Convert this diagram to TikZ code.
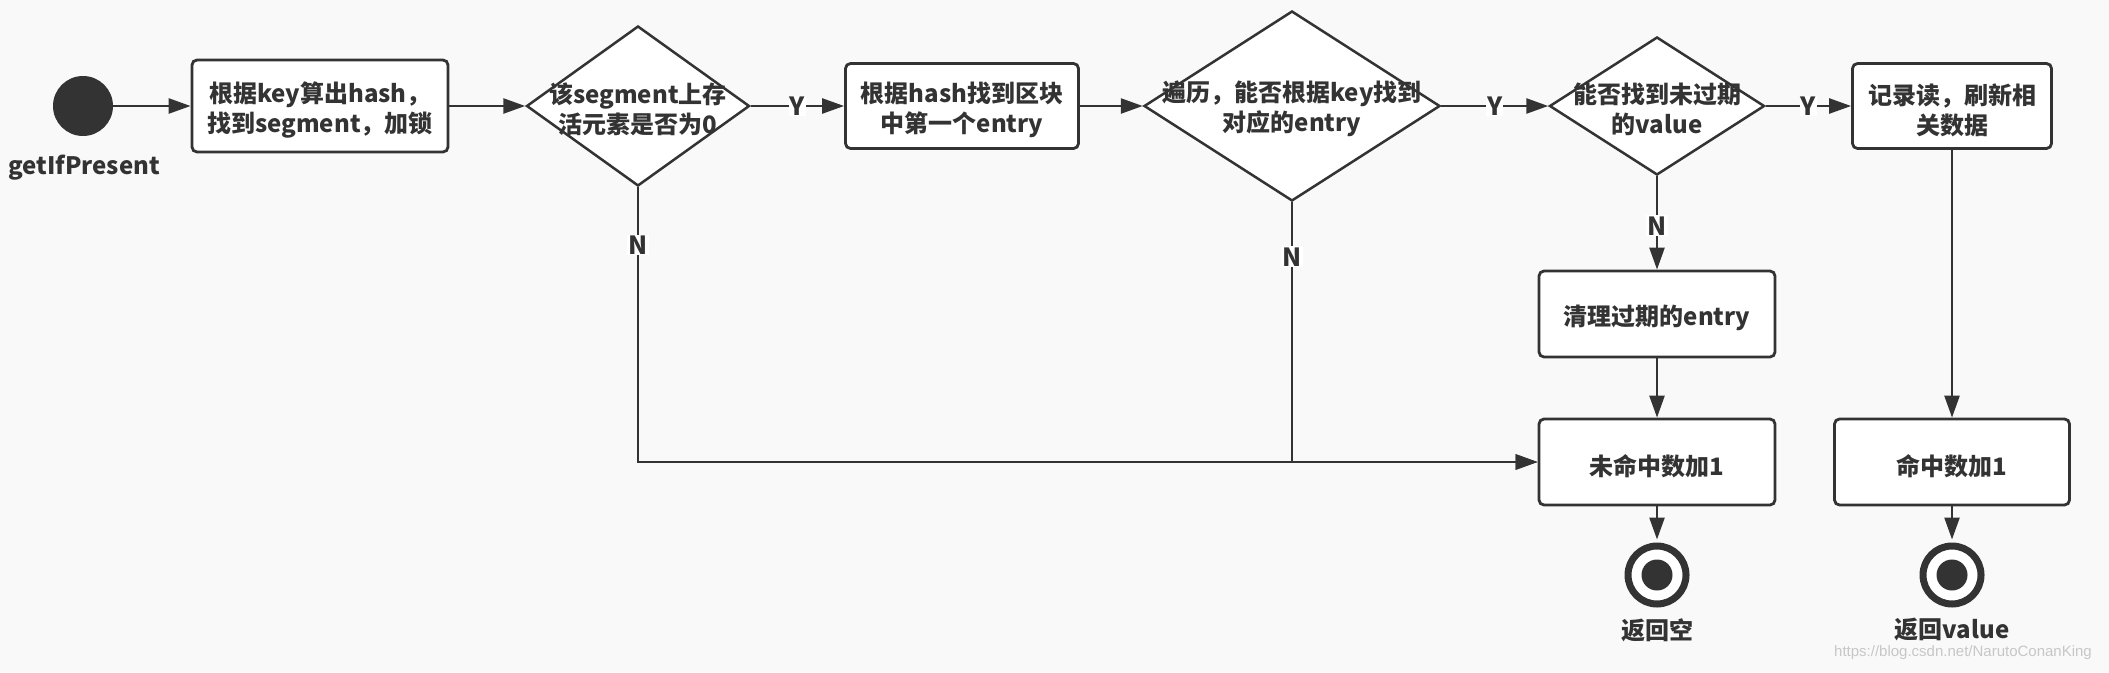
\documentclass[tikz,border=0pt]{standalone}
\usepackage{fontspec}
\setmainfont{Noto Sans CJK SC}
\newfontfamily\wmfont{Liberation Sans}
\usetikzlibrary{shapes.geometric,arrows.meta}
\definecolor{ink}{HTML}{333333}
\definecolor{bg}{HTML}{F9F9F9}
\begin{document}
\begin{tikzpicture}[x=1pt,y=-1pt,
  every node/.style={font=\fontsize{24}{30}\selectfont\bfseries, text=ink, align=center},
  box/.style={draw=ink, line width=2.8pt, fill=white, rounded corners=5pt, inner sep=0pt,
    label={[yshift=-4pt]center:{#1}}},
  dia/.style={diamond, draw=ink, line width=2.5pt, fill=white, inner sep=0pt,
    label={[yshift=-3pt]center:{#1}}},
  conn/.style={draw=ink, line width=2.5pt, -{Triangle[length=22pt,width=15pt]}},
  yn/.style={fill=white, inner sep=1pt, font=\fontsize{25}{26}\selectfont\bfseries},
  endst/.style={circle, draw=ink, line width=7pt, fill=white, minimum size=58pt, inner sep=0pt,
    path picture={\fill[ink] (path picture bounding box.center) circle (15.5pt);}}
]
\fill[bg] (0,0) rectangle (2109,672);
\useasboundingbox (0,0) rectangle (2109,672);

\node[circle, fill=ink, minimum size=60pt, inner sep=0pt] (s) at (83,106) {};
\node (sl) at (84,168) {getIfPresent};
\node[box={根据key算出hash，\\找到segment，加锁}, minimum width=256pt, minimum height=92pt] (b1) at (320,106) {};
\node[dia={该segment上存\\活元素是否为0}, minimum width=223pt, minimum height=160pt] (d1) at (638,106) {};
\node[box={根据hash找到区块\\中第一个entry}, minimum width=233pt, minimum height=85pt] (b2) at (962,106) {};
\node[dia={遍历，能否根据key找到\\对应的entry}, minimum width=296pt, minimum height=190pt] (d2) at (1292,106) {};
\node[dia={能否找到未过期\\的value}, minimum width=215pt, minimum height=138pt] (d3) at (1657,106) {};
\node[box={记录读，刷新相\\关数据}, minimum width=199pt, minimum height=85pt] (b3) at (1952,106) {};
\node[box={清理过期的entry}, minimum width=236pt, minimum height=86pt] (b4) at (1657,314) {};
\node[box={未命中数加1}, minimum width=236pt, minimum height=86pt] (b5) at (1657,462) {};
\node[box={命中数加1}, minimum width=235pt, minimum height=86pt] (b6) at (1952,462) {};
\node[endst] (e1) at (1657,575) {};
\node[endst] (e2) at (1952,575) {};
\node (l1) at (1657,630) {返回空};
\node (l2) at (1952,630) {返回value};
\node[font=\wmfont\fontsize{15}{18}\selectfont, text=black!22] (wm) at (1963,653) {https://blog.csdn.net/NarutoConanKing};

\draw[conn] (s) -- (b1);
\draw[conn] (b1) -- (d1);
\draw[conn] (d1) -- node[yn]{Y} (b2);
\draw[conn] (b2) -- (d2);
\draw[conn] (d2) -- node[yn]{Y} (d3);
\draw[conn] (d3) -- node[yn]{Y} (b3);
\draw[conn] (d3) -- node[yn, pos=0.53]{N} (b4);
\draw[conn] (b4) -- (b5);
\draw[conn] (d1.south) |- node[yn, pos=0.105]{N} (b5.west);
\draw[conn] (d2.south) |- node[yn, pos=0.105]{N} (b5.west);
\draw[conn] (b3) -- (b6);
\draw[conn, shorten >=3pt] (b5) -- (e1);
\draw[conn, shorten >=3pt] (b6) -- (e2);
\end{tikzpicture}
\end{document}
